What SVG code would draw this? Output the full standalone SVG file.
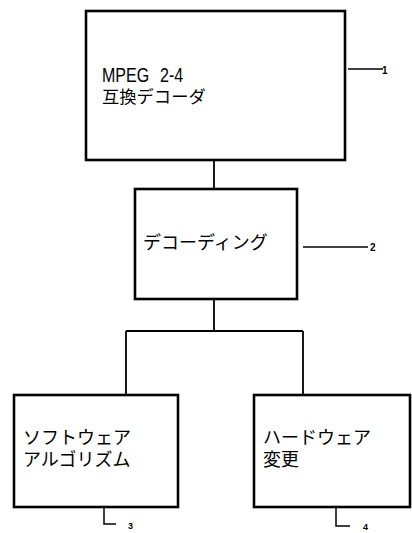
<svg xmlns="http://www.w3.org/2000/svg" width="412" height="533" viewBox="0 0 412 533">
<style>
.box{fill:#fff;stroke:#000;stroke-width:2.6}
.ln{fill:none;stroke:#000;stroke-width:1.8}
.lb{fill:none;stroke:#000;stroke-width:1.5}
.t{font-family:"Liberation Sans","Noto Sans CJK JP",sans-serif;font-size:18px;fill:#000}
.n{font-family:"Liberation Sans",sans-serif;font-size:10px;fill:#000;font-weight:bold}
</style>
<rect width="412" height="533" fill="#fff"/>
<g id="connectors">
<path class="ln" d="M214 161V189"/>
<path class="ln" d="M214 299V331M126 331H303M126 331V395M303 331V395"/>
</g>
<g id="n1">
<rect class="box" x="86" y="11" width="259" height="149"/>
<text class="t" transform="translate(102,82) scale(1,1.25)" style="font-size:16px">MPEG<tspan x="58">2-4</tspan></text>
<text class="t" x="102" y="103" style="font-size:17.3px">互換デコーダ</text>
<path class="lb" d="M348 69H383"/>
<text class="n" x="382" y="74">1</text>
</g>
<g id="n2">
<rect class="box" x="135" y="189" width="162" height="110"/>
<text class="t" x="143" y="249">デコーディング</text>
<path class="lb" d="M303 247H368"/>
<text class="n" x="370" y="251">2</text>
</g>
<g id="n3">
<rect class="box" x="14" y="395" width="164" height="112"/>
<text class="t" x="23" y="444">ソフトウェア</text>
<text class="t" x="23" y="466">アルゴリズム</text>
<path class="lb" d="M104 508V524H116"/>
<text class="n" x="128" y="529" style="font-size:9px">3</text>
</g>
<g id="n4">
<rect class="box" x="254" y="395" width="156" height="112"/>
<text class="t" x="263" y="444">ハードウェア</text>
<text class="t" x="263" y="466">変更</text>
<path class="lb" d="M336 508V526H350"/>
<text class="n" x="363" y="530" style="font-size:9px">4</text>
</g>
</svg>
